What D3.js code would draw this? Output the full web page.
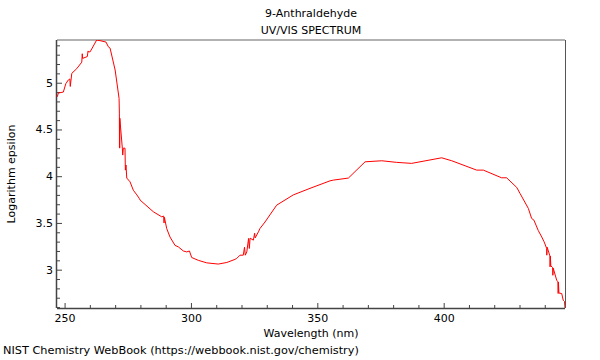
<!DOCTYPE html>
<html><head><meta charset="utf-8">
<script src="https://cdn.jsdelivr.net/npm/d3@7"></script>
<style>body{margin:0;background:#fff;} svg{display:block;} text{font-family:"DejaVu Sans",sans-serif;fill:#000;}</style>
</head><body>
<svg id="c" width="600" height="360"></svg>
<script>
const titleLines = ["9-Anthraldehyde", "UV/VIS SPECTRUM"];
const xLabel = "Wavelength (nm)";
const yLabel = "Logarithm epsilon";
const footer = "NIST Chemistry WebBook (https://webbook.nist.gov/chemistry)";
const xTicks = [250, 300, 350, 400];
const yTicks = [3, 3.5, 4, 4.5, 5];
const wavelength = [247.15,247.5,249.5,250.5,251.5,252.1,252.25,252.85,254.8,256.8,257.0,257.15,259.0,259.3,259.5,260.1,262.7,264.0,266.4,267.3,268.0,270.0,271.56,271.68,271.72,271.76,271.8,271.85,272.85,273.0,273.25,273.9,274.05,274.3,274.6,275.9,277.2,278.6,279.6,279.9,285.1,288.45,289.2,289.35,289.5,290.4,291.7,293.7,295.0,297.0,298.3,299.4,300.3,302.9,306.25,310.8,314.2,317.4,318.1,319.4,320.7,321.2,321.5,322.1,322.8,323.1,323.4,324.7,325.2,325.4,326.7,327.3,329.3,333.9,340.5,347.1,355.0,356.3,362.3,368.9,375.5,381.4,387.3,399.2,403.2,413.05,415.7,422.9,424.9,428.9,430.2,433.5,434.8,435.7,437.4,438.8,439.7,440.75,440.8,440.95,442.05,442.1,442.2,442.4,443.1,443.2,443.35,444.7,445.2,445.3,445.4,445.6,446.7,447.3,447.8,448.0];
const logEps = [4.85,4.89,4.90,4.99,5.03,5.04,4.96,5.10,5.15,5.22,5.31,5.26,5.28,5.34,5.33,5.33,5.457,5.45,5.435,5.385,5.37,5.136,4.833,4.675,4.31,4.62,4.30,4.62,4.30,4.226,4.30,4.30,4.065,4.12,3.98,3.94,3.85,3.80,3.76,3.744,3.62,3.565,3.573,3.50,3.56,3.44,3.35,3.26,3.244,3.20,3.19,3.20,3.13,3.10,3.073,3.06,3.077,3.11,3.12,3.155,3.155,3.24,3.155,3.19,3.334,3.227,3.337,3.316,3.39,3.34,3.405,3.44,3.51,3.69,3.80,3.87,3.95,3.958,3.98,4.154,4.165,4.148,4.137,4.197,4.165,4.065,4.065,3.983,3.983,3.88,3.816,3.655,3.548,3.53,3.42,3.35,3.30,3.227,3.155,3.24,3.145,3.03,3.145,3.04,3.024,2.94,3.016,2.888,2.87,2.745,2.867,2.75,2.745,2.673,2.66,2.59];

const svg = d3.select("#c");
const L = 57, R = 565, T = 40, B = 308;
const x = d3.scaleLinear().domain([247.0, 448.0]).range([L, R]);
const y = d3.scaleLinear().domain([2.59, 5.457]).range([B, T]);

svg.append("clipPath").attr("id","clip").append("rect").attr("x",L).attr("y",T).attr("width",R-L).attr("height",B-T);

svg.append("line").attr("x1",L).attr("x2",R).attr("y1",T).attr("y2",T).attr("stroke","#999").attr("stroke-width",1.5);
svg.append("line").attr("x1",R+0.5).attr("x2",R+0.5).attr("y1",T).attr("y2",B).attr("stroke","#555").attr("stroke-width",1);

const xMinor = d3.range(250, 448, 10).filter(v => !xTicks.includes(v));
const xg = svg.append("g").attr("transform",`translate(0,${B})`);
xg.call(d3.axisBottom(x).tickValues(xMinor).tickSize(-3).tickFormat(""));
xg.call(g => g.select(".domain").remove());
const xg2 = svg.append("g").attr("transform",`translate(0,${B})`);
xg2.call(d3.axisBottom(x).tickValues(xTicks).tickSize(-5).tickPadding(6).tickFormat(d3.format("d")));
xg2.select(".domain").attr("stroke","#444").attr("stroke-width",1.5).attr("d",`M${L},0.5H${R}`);
xg2.selectAll("text").attr("font-size",11).attr("font-family","DejaVu Sans");

const yMinor = d3.range(2.6, 5.46, 0.1).map(v => +v.toFixed(1)).filter(v => !yTicks.includes(v));
const yg = svg.append("g").attr("transform",`translate(${L},0)`);
yg.call(d3.axisLeft(y).tickValues(yMinor).tickSize(-3).tickFormat(""));
yg.call(g => g.select(".domain").remove());
const yg2 = svg.append("g").attr("transform",`translate(${L},0)`);
yg2.call(d3.axisLeft(y).tickValues(yTicks).tickSize(-5).tickPadding(4).tickFormat(d => String(d)));
yg2.select(".domain").attr("stroke","#444").attr("stroke-width",1.5).attr("d",`M-0.5,${T}V${B}`);
yg2.selectAll("text").attr("font-size",11).attr("font-family","DejaVu Sans");
svg.selectAll(".tick line").attr("stroke","#444");

const pts = wavelength.map((w,i) => [w, logEps[i]]);
svg.append("path").datum(pts).attr("clip-path","url(#clip)")
  .attr("fill","none").attr("stroke","#ff0000").attr("stroke-width",1)
  .attr("d", d3.line().x(d => x(d[0])).y(d => y(d[1])));

svg.selectAll(".title").data(titleLines).enter().append("text")
  .attr("x",(L+R)/2).attr("y",(d,i)=>17+i*17).attr("text-anchor","middle").attr("font-size",11).text(d=>d);
svg.append("text").attr("x",(L+R)/2).attr("y",337).attr("text-anchor","middle").attr("font-size",11).text(xLabel);
svg.append("text").attr("transform",`translate(15,${(T+B)/2}) rotate(-90)`).attr("text-anchor","middle").attr("font-size",11).text(yLabel);
svg.append("text").attr("x",3).attr("y",354).attr("font-size",11.3).text(footer);
</script>
</body></html>
